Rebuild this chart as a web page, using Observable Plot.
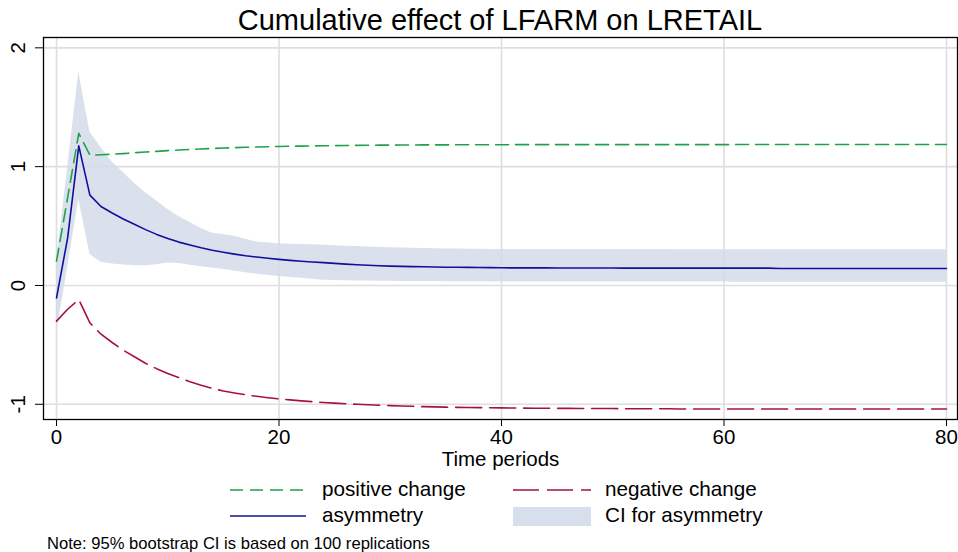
<!DOCTYPE html>
<html><head><meta charset="utf-8">
<script src="https://cdn.jsdelivr.net/npm/d3@7"></script>
<script src="https://cdn.jsdelivr.net/npm/@observablehq/plot@0.6"></script>
<style>
body{margin:0;background:#fff;font-family:"Liberation Sans",Arial,Helvetica,sans-serif;color:#000;}
#wrap{position:relative;width:958px;height:552px;overflow:hidden;background:#fff;}
#title{position:absolute;left:43px;width:914px;top:5px;line-height:30px;font-size:29px;text-align:center;white-space:nowrap;}
#chart{position:absolute;left:0;top:30px;}
.lg{position:absolute;font-size:20.7px;line-height:20px;white-space:nowrap;}
.sw{position:absolute;}
#note{position:absolute;left:47px;top:536px;font-size:16.6px;line-height:16px;white-space:nowrap;}
</style></head><body>
<div id="wrap">
  <div id="title">Cumulative effect of LFARM on LRETAIL</div>
  <div id="chart"></div>
  <svg class="sw" style="left:0;top:470px" width="958" height="70">
    <line x1="230" x2="306" y1="20" y2="20" stroke="#1ea34a" stroke-width="1.6" stroke-dasharray="13,7"/>
    <line x1="513" x2="591" y1="20" y2="20" stroke="#a5104a" stroke-width="1.6" stroke-dasharray="26,8"/>
    <line x1="230" x2="306" y1="46" y2="46" stroke="#10109a" stroke-width="1.6"/>
    <rect x="513" y="37" width="78" height="19" fill="#d6dfeb"/>
  </svg>
  <div class="lg" style="left:322px;top:479px">positive change</div>
  <div class="lg" style="left:605px;top:479px">negative change</div>
  <div class="lg" style="left:322px;top:505px">asymmetry</div>
  <div class="lg" style="left:605px;top:505px">CI for asymmetry</div>
  <div id="note">Note: 95% bootstrap CI is based on 100 replications</div>
</div>
<script>
const periods = d3.range(0, 81);
const xTicks = [0, 20, 40, 60, 80];
const yTicks = [-1, 0, 1, 2];
const yTickLabels = ["-1", "0", "1", "2"];

const positiveChange = [
  0.205, 0.74, 1.28, 1.097, 1.100, 1.105, 1.110, 1.117, 1.123, 1.129,
  1.135, 1.140, 1.145, 1.149, 1.153, 1.157, 1.160, 1.163, 1.166, 1.168,
  1.170, 1.172, 1.173, 1.175, 1.176, 1.177, 1.178, 1.179, 1.180, 1.181,
  1.181, 1.182, 1.182, 1.183, 1.183, 1.183, 1.184, 1.184, 1.184, 1.184,
  1.184, 1.185, 1.185, 1.185, 1.185, 1.185, 1.185, 1.185, 1.185, 1.185,
  1.185, 1.185, 1.185, 1.185, 1.185, 1.185, 1.185, 1.185, 1.185, 1.185,
  1.185, 1.186, 1.186, 1.186, 1.186, 1.186, 1.186, 1.186, 1.186, 1.186,
  1.186, 1.186, 1.186, 1.186, 1.186, 1.186, 1.186, 1.186, 1.186, 1.186,
  1.186
];
const negativeChange = [
  -0.300, -0.200, -0.118, -0.315, -0.410, -0.480, -0.545, -0.600, -0.655, -0.700,
  -0.740, -0.775, -0.810, -0.840, -0.866, -0.888, -0.905, -0.920, -0.933, -0.945,
  -0.955, -0.963, -0.971, -0.978, -0.985, -0.990, -0.995, -1.000, -1.004, -1.008,
  -1.011, -1.014, -1.017, -1.020, -1.022, -1.024, -1.026, -1.027, -1.028, -1.029,
  -1.030, -1.031, -1.032, -1.033, -1.033, -1.034, -1.034, -1.035, -1.035, -1.036,
  -1.036, -1.037, -1.037, -1.038, -1.038, -1.038, -1.039, -1.039, -1.039, -1.039,
  -1.040, -1.040, -1.040, -1.040, -1.040, -1.040, -1.040, -1.040, -1.040, -1.040,
  -1.040, -1.040, -1.040, -1.040, -1.040, -1.040, -1.040, -1.040, -1.040, -1.040,
  -1.040
];
const asymmetry = [
  -0.105, 0.40, 1.175, 0.76, 0.665, 0.61, 0.56, 0.515, 0.47, 0.43,
  0.395, 0.365, 0.34, 0.317, 0.297, 0.28, 0.264, 0.25, 0.239, 0.229,
  0.22, 0.211, 0.204, 0.198, 0.192, 0.186, 0.18, 0.175, 0.17, 0.166,
  0.163, 0.161, 0.159, 0.157, 0.155, 0.154, 0.153, 0.152, 0.151, 0.150,
  0.149, 0.148, 0.148, 0.148, 0.148, 0.147, 0.147, 0.147, 0.147, 0.147,
  0.147, 0.146, 0.146, 0.146, 0.146, 0.146, 0.146, 0.146, 0.146, 0.146,
  0.146, 0.146, 0.146, 0.146, 0.146, 0.143, 0.143, 0.143, 0.143, 0.143,
  0.143, 0.143, 0.143, 0.143, 0.143, 0.143, 0.143, 0.143, 0.143, 0.143,
  0.143
];
const ciUpper = [
  0.20, 0.99, 1.795, 1.294, 1.16, 1.04, 0.95, 0.86, 0.78, 0.71,
  0.64, 0.58, 0.53, 0.48, 0.44, 0.43, 0.415, 0.39, 0.365, 0.357,
  0.352, 0.348, 0.345, 0.342, 0.338, 0.335, 0.331, 0.327, 0.323, 0.320,
  0.317, 0.315, 0.313, 0.311, 0.309, 0.307, 0.306, 0.305, 0.304, 0.303,
  0.303, 0.302, 0.302, 0.302, 0.302, 0.302, 0.302, 0.302, 0.302, 0.302,
  0.302, 0.302, 0.302, 0.302, 0.302, 0.302, 0.300, 0.300, 0.300, 0.300,
  0.300, 0.300, 0.300, 0.300, 0.300, 0.300, 0.300, 0.300, 0.300, 0.300,
  0.300, 0.300, 0.300, 0.300, 0.300, 0.300, 0.300, 0.300, 0.300, 0.300,
  0.300
];
const ciLower = [
  -0.40, 0.15, 0.726, 0.262, 0.195, 0.18, 0.172, 0.165, 0.165, 0.175,
  0.19, 0.185, 0.17, 0.158, 0.147, 0.135, 0.122, 0.108, 0.095, 0.085,
  0.075, 0.067, 0.060, 0.052, 0.045, 0.042, 0.040, 0.038, 0.037, 0.036,
  0.035, 0.034, 0.034, 0.033, 0.033, 0.032, 0.032, 0.031, 0.031, 0.030,
  0.030, 0.030, 0.030, 0.030, 0.030, 0.030, 0.030, 0.030, 0.030, 0.030,
  0.030, 0.029, 0.029, 0.029, 0.029, 0.029, 0.029, 0.029, 0.029, 0.029,
  0.029, 0.028, 0.028, 0.028, 0.028, 0.028, 0.028, 0.028, 0.028, 0.028,
  0.028, 0.028, 0.028, 0.028, 0.028, 0.028, 0.028, 0.028, 0.028, 0.028,
  0.028
];

const data = periods.map((t, i) => ({
  t, pos: positiveChange[i], neg: negativeChange[i], asym: asymmetry[i],
  lo: ciLower[i], hi: ciUpper[i]
}));

const font = '"Liberation Sans", Arial, Helvetica, sans-serif';
const chart = Plot.plot({
  width: 958, height: 445,
  marginTop: 7, marginBottom: 56, marginLeft: 43, marginRight: 1,
  x: {domain: [-1.17, 80.99]},
  y: {domain: [-1.128, 2.087]},
  style: {fontFamily: font, fontSize: "20px", color: "#000", background: "#fff", overflow: "visible"},
  marks: [
    Plot.ruleY(yTicks, {stroke: "#dedede", strokeWidth: 1.6}),
    Plot.ruleX(xTicks, {stroke: "#dedede", strokeWidth: 1.6}),
    Plot.areaY(data, {x: "t", y1: "lo", y2: "hi", fill: "#d3dce9", fillOpacity: 0.85}),
    Plot.lineY(data, {x: "t", y: "pos", stroke: "#1ea34a", strokeWidth: 1.6, strokeDasharray: "13,7"}),
    Plot.lineY(data, {x: "t", y: "neg", stroke: "#a5104a", strokeWidth: 1.6, strokeDasharray: "26,8"}),
    Plot.lineY(data, {x: "t", y: "asym", stroke: "#10109a", strokeWidth: 1.6}),
    Plot.frame({stroke: "#000", strokeWidth: 1.3}),
    Plot.axisX(xTicks, {tickSize: 7, tickPadding: 3, fontSize: 20.5, label: null}),
    Plot.axisY(yTicks, {tickSize: 8, tickFormat: () => "", label: null}),
    Plot.text(yTicks, {y: d => d, text: (d, i) => yTickLabels[i], frameAnchor: "left", dx: -25,
      rotate: -90, textAnchor: "middle", lineAnchor: "middle", fontSize: 20.5}),
    Plot.text(["Time periods"], {frameAnchor: "bottom", dy: 40, lineAnchor: "middle", textAnchor: "middle", fontSize: 20.5})
  ]
});
document.getElementById("chart").appendChild(chart);
</script>
</body></html>
